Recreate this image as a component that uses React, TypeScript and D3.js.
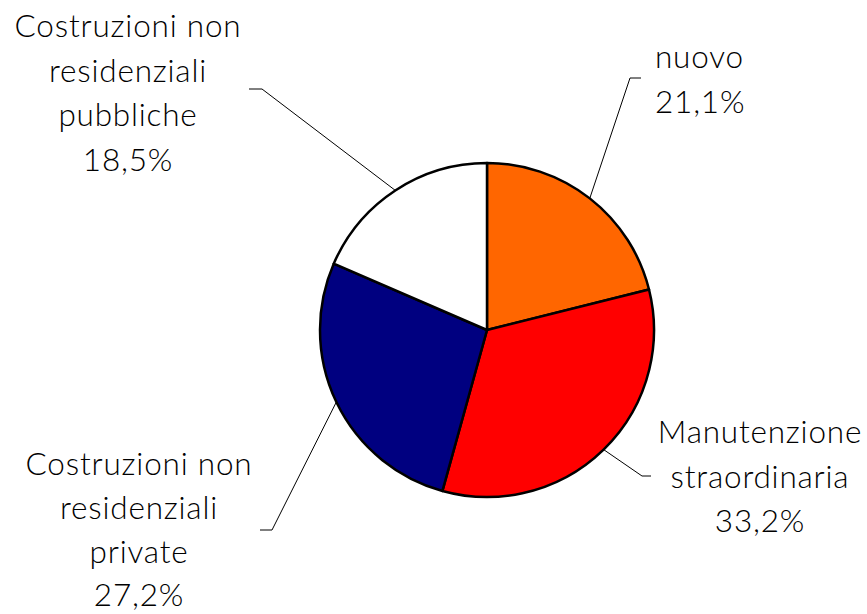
import React from "react";
import * as d3 from "d3";

const categories = [
  "nuovo",
  "Manutenzione straordinaria",
  "Costruzioni non residenziali private",
  "Costruzioni non residenziali pubbliche",
];
const values = [21.1, 33.2, 27.2, 18.5];
const labelLines = [
  ["nuovo", "21,1%"],
  ["Manutenzione", "straordinaria", "33,2%"],
  ["Costruzioni non", "residenziali", "private", "27,2%"],
  ["Costruzioni non", "residenziali", "pubbliche", "18,5%"],
];
const colors = ["#FF6600", "#FF0000", "#000080", "#FFFFFF"];

// label layout (elbow of leader line, end of leader line, text position)
const layout = [
  { elbow: [630, 78], end: [641, 78], tx: 655, anchor: "start", ty: 68, lh: 44.5 },
  { elbow: [642, 476], end: [651, 476], tx: 760, anchor: "middle", ty: 443, lh: 44.5 },
  { elbow: [272, 530], end: [260, 530], tx: 139, anchor: "middle", ty: 475, lh: 43.8 },
  { elbow: [262, 89], end: [249, 89], tx: 128, anchor: "middle", ty: 37, lh: 44.5 },
];

export default function App() {
  const W = 867, H = 614;
  const cx = 487, cy = 330, r = 167;
  const pie = d3.pie<number>().sort(null).value((d) => d);
  const arcs = pie(values);
  const arc = d3.arc<d3.PieArcDatum<number>>().innerRadius(0).outerRadius(r);
  return (
    <svg width={W} height={H} style={{ position: "absolute", left: 0, top: 0, display: "block" }}>
      <rect x={0} y={0} width={W} height={H} fill="#fff" />
      <g transform={`translate(${cx},${cy})`}>
        {arcs.map((a, i) => (
          <path key={i} d={arc(a) || ""} fill={colors[i]} stroke="#000" strokeWidth={2.5} strokeLinejoin="round">
            <title>{categories[i]}</title>
          </path>
        ))}
      </g>
      {arcs.map((a, i) => {
        const m = (a.startAngle + a.endAngle) / 2;
        const px = cx + r * Math.sin(m);
        const py = cy - r * Math.cos(m);
        const L = layout[i];
        const pts = [[px, py], L.elbow, L.end];
        return (
          <polyline key={"l" + i} points={pts.map((p) => p.join(",")).join(" ")} fill="none" stroke="#000" strokeWidth={1} />
        );
      })}
      {labelLines.map((lines, i) => {
        const L = layout[i];
        return (
          <text key={"t" + i} x={L.tx} y={L.ty} textAnchor={L.anchor as any}
            fontFamily="Lato, sans-serif" fontWeight={300} fontSize={31.5} letterSpacing={0.8} fill="#000">
            {lines.map((s, j) => (
              <tspan key={j} x={L.tx} y={L.ty + j * L.lh}>{s}</tspan>
            ))}
          </text>
        );
      })}
    </svg>
  );
}
